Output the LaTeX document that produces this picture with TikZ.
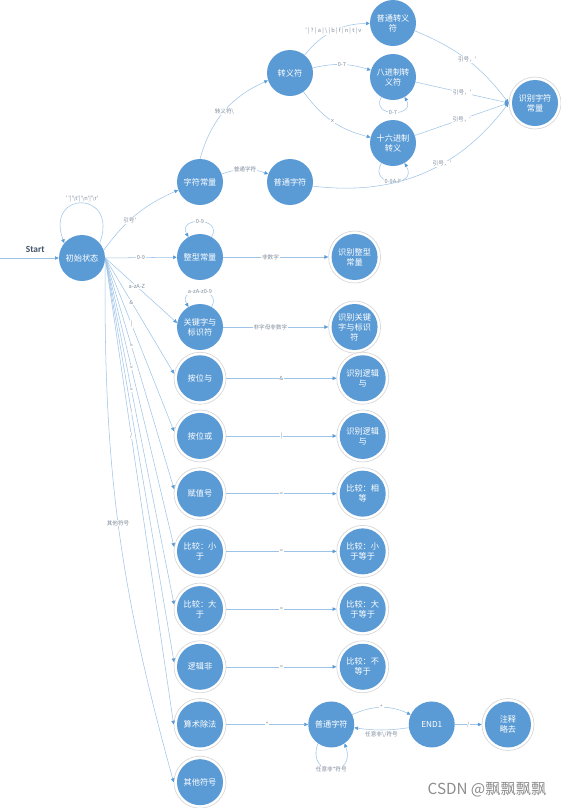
\documentclass[tikz,border=0pt]{standalone}
\usepackage{fontspec}
\setmainfont{Noto Sans CJK SC}[Ligatures=TeXOff]
\newfontfamily\calibri{Carlito}
\usetikzlibrary{arrows.meta, positioning}

\definecolor{nodeblue}{HTML}{5B9BD5}
\definecolor{lineblue}{HTML}{9DC3E6}
\definecolor{ringgray}{HTML}{D9D9D9}
\definecolor{labelgray}{HTML}{7F8C9D}
\definecolor{startblue}{HTML}{44546A}

\begin{document}
\begin{tikzpicture}[
    x=0.03cm, y=-0.03cm,
    statenode/.style={circle, fill=nodeblue, text=white, inner sep=0pt, minimum size=1.38cm, align=center, font=\fontsize{7}{8.5}\selectfont},
    acceptnode/.style={statenode, fill=white, draw=ringgray, line width=0.6pt, minimum size=1.56cm,
        path picture={\fill[nodeblue] (path picture bounding box.center) circle (0.69cm);}},
    arrow/.style={draw=lineblue, line width=0.45pt, -{Triangle[length=3.2pt, width=3pt, color=nodeblue]}},
    lbl/.style={fill=white, inner sep=0.6pt, text=labelgray, font=\fontsize{4.8}{5.5}\selectfont}
]
\useasboundingbox (0,0) rectangle (561,808);

% character constants
\node[statenode] (init) at (82,258) {初始状态};
\node[statenode] (char) at (200,182) {字符常量};
\node[statenode] (plain1) at (290,182) {普通字符};
\node[statenode] (esc) at (290,73) {转义符};
\node[statenode] (nesc) at (393,23) {普通转义\\符};
\node[statenode] (oct) at (393,77) {八进制转\\义符};
\node[statenode] (hex) at (393,143) {十六进制\\转义};
\node[acceptnode] (rcc) at (535,103) {识别字符\\常量};

% main column
\node[statenode] (int) at (200,257) {整型常量};
\node[statenode] (kw) at (200,327) {关键字与\\标识符};
\node[acceptnode, below=0.05cm of kw] (band) {按位与};
\node[acceptnode, below=0.15cm of band] (bor) {按位或};
\node[acceptnode, below=0.15cm of bor] (assign) {赋值号};
\node[acceptnode, below=0.15cm of assign] (lt) {比较：小\\于};
\node[acceptnode, below=0.15cm of lt] (gt) {比较：大\\于};
\node[acceptnode, below=0.15cm of gt] (not) {逻辑非};
\node[acceptnode, below=0.15cm of not] (div) {算术除法};
\node[acceptnode, below=0.15cm of div] (other) {其他符号};

% right column
\node[acceptnode, right=3.15cm of int] (rint) {识别整型\\常量};
\node[acceptnode, right=3.15cm of kw] (rkw) {识别关键\\字与标识\\符};
\node[acceptnode, right=3.3cm of band] (rband) {识别逻辑\\与};
\node[acceptnode, right=3.3cm of bor] (rbor) {识别逻辑\\与};
\node[acceptnode, right=3.3cm of assign] (req) {比较：相\\等};
\node[acceptnode, right=3.3cm of lt] (rle) {比较：小\\于等于};
\node[acceptnode, right=3.3cm of gt] (rge) {比较：大\\于等于};
\node[acceptnode, right=3.3cm of not] (rne) {比较：不\\等于};

% comments
\node[statenode, right=2.45cm of div] (plain2) {普通字符};
\node[statenode, right=1.62cm of plain2] (end) {END1};
\node[acceptnode, right=0.8cm of end] (rem) {注释\\略去};

\node[text=black!45, font=\fontsize{13}{15}\selectfont] (mark) at (487,790) {CSDN @飘飘飘飘};

% start
\coordinate (start) at (0,258);
\draw[arrow] (start) -- node[above=1pt, pos=0.6, text=startblue, font=\calibri\bfseries\fontsize{8}{9}\selectfont] {Start} (init);
\draw[arrow] (init.40) .. controls +(70:1.7cm) and +(110:1.7cm) .. node[lbl, above=0pt, fill=none] {' '|'\textbackslash t'|'\textbackslash n'|'\textbackslash r'} (init.140);

% from initial state
\draw[arrow] (init.20) to[bend left=15] node[lbl, pos=0.4] {引号'} (char);
\draw[arrow] (init.east) -- node[lbl] {0-9} (int);
\draw[arrow] (init.east) -- node[lbl, pos=0.44] {a-zA-Z} (kw.170);
\draw[arrow] (init.east) -- node[lbl, pos=0.38] {\&} (band.170);
\draw[arrow] (init.east) -- node[lbl, pos=0.38] {|} (bor.170);
\draw[arrow] (init.east) -- node[lbl, pos=0.38] {=} (assign.170);
\draw[arrow] (init.east) -- node[lbl, pos=0.38] {<} (lt.170);
\draw[arrow] (init.east) -- node[lbl, pos=0.38] {>} (gt.170);
\draw[arrow] (init.east) -- node[lbl, pos=0.38] {!} (not.170);
\draw[arrow] (init.east) -- node[lbl, pos=0.38] {/} (div.west);
\draw[arrow] (init.east) to[bend right=8] node[lbl] {其他符号} (other.west);

% character constant branch
\draw[arrow] (char.north) to[bend left=25] node[lbl] {转义符\textbackslash} (esc);
\draw[arrow] (char) to[bend left=20] node[lbl] {普通字符} (plain1);
\draw[arrow] (esc) to[bend left=25] node[lbl] {' | ? | a | \textbackslash{} | b | f | n | t | v} (nesc);
\draw[arrow] (esc) to[bend left=15] node[lbl] {0-7} (oct);
\draw[arrow] (esc) to[bend right=20] node[lbl] {x} (hex);
\draw[arrow] (oct.240) .. controls +(240:0.7cm) and +(300:0.7cm) .. node[lbl] {0-7} (oct.300);
\draw[arrow] (hex.240) .. controls +(240:0.85cm) and +(300:0.85cm) .. node[lbl] {0-9A-F} (hex.300);
\draw[arrow] (nesc) to[bend left=15] node[lbl] {引号，'} (rcc.west);
\draw[arrow] (oct) -- node[lbl] {引号，'} (rcc.west);
\draw[arrow] (hex) -- node[lbl] {引号，'} (rcc.west);
\draw[arrow] (plain1) to[bend right=30] node[lbl, pos=0.6] {引号，'} (rcc.west);

% integers and identifiers
\draw[arrow] (int.60) .. controls +(60:0.7cm) and +(120:0.7cm) .. node[lbl] {0-9} (int.120);
\draw[arrow] (kw.60) .. controls +(60:0.7cm) and +(120:0.7cm) .. node[lbl] {a-zA-z0-9} (kw.120);
\draw[arrow] (int) -- node[lbl, pos=0.45] {非数字} (rint);
\draw[arrow] (kw) -- node[lbl, pos=0.45] {非字母非数字} (rkw);

% operators
\draw[arrow] (band) -- node[lbl] {\&} (rband);
\draw[arrow] (bor) -- node[lbl] {|} (rbor);
\draw[arrow] (assign) -- node[lbl] {=} (req);
\draw[arrow] (lt) -- node[lbl] {=} (rle);
\draw[arrow] (gt) -- node[lbl] {=} (rge);
\draw[arrow] (not) -- node[lbl] {=} (rne);

% comments
\draw[arrow] (div) -- node[lbl] {*} (plain2);
\draw[arrow] (plain2.235) .. controls +(250:1.1cm) and +(290:1.1cm) .. node[lbl] {任意非*符号} (plain2.305);
\draw[arrow] (plain2) to[bend left=25] node[lbl] {*} (end);
\draw[arrow] (end) to[bend left=8] node[lbl, below=1pt, fill=none] {任意非\textbackslash/符号} (plain2);
\draw[arrow] (end) -- node[lbl] {/} (rem);
\end{tikzpicture}
\end{document}
